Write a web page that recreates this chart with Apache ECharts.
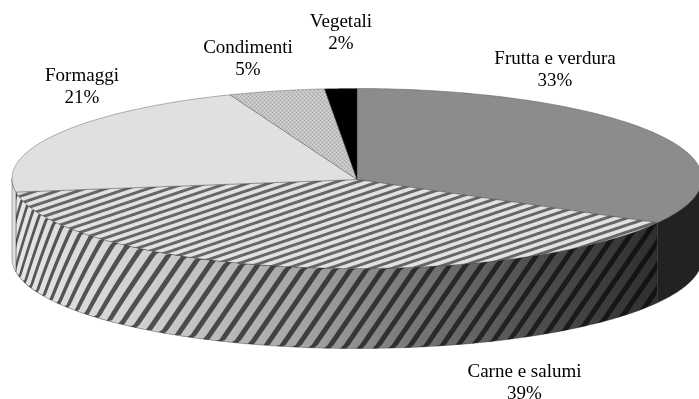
<!DOCTYPE html>
<html>
<head>
<meta charset="utf-8">
<style>html,body{margin:0;padding:0;background:#fff}#c{width:699px;height:399px}</style>
<script src="https://cdn.jsdelivr.net/npm/echarts@6/dist/echarts.min.js"></script>
</head>
<body>
<div id="c"></div>
<script>
// data
const categories = ['Frutta e verdura', 'Carne e salumi', 'Formaggi', 'Condimenti', 'Vegetali'];
const values = [33.2, 39.4, 21.4, 4.5, 1.5];
const percentLabels = ['33%', '39%', '21%', '5%', '2%'];

// layout and style
const CX = 357, CY = 178.5, RX = 345, RY = 90, DEPTH = 80;
const labelAnchor = [[555, 59], [524.5, 372], [82, 76], [248, 48], [341, 22]];
const LINE_H = 22;

function tile(w, h, bg, draw) {
  const c = document.createElement('canvas');
  c.width = w; c.height = h;
  const x = c.getContext('2d');
  if (bg) { x.fillStyle = bg; x.fillRect(0, 0, w, h); }
  draw(x, w, h);
  return { image: c, repeat: 'repeat' };
}
function diag(x, w, h, color, lw) {
  x.strokeStyle = color; x.lineWidth = lw;
  for (let i = -3; i <= 3; i++) {
    x.beginPath();
    x.moveTo((i - 2) * w, 3 * h); x.lineTo((i + 3) * w, -2 * h);
    x.stroke();
  }
}
const stripesTop = tile(21, 7, '#e2e2e2', (x, w, h) => diag(x, w, h, '#666', 3));
const dots = tile(4, 4, '#c2c2c2', (x) => {
  x.fillStyle = '#a8a8a8';
  x.fillRect(0, 0, 1, 1); x.fillRect(2, 2, 1, 1);
  x.fillStyle = '#d8d8d8';
  x.fillRect(2, 0, 1, 1); x.fillRect(0, 2, 1, 1);
});
const sideShade = new echarts.graphic.LinearGradient(12, 0, 660, 0, [
  { offset: 0, color: '#e6e6e6' }, { offset: 0.2, color: '#d0d0d0' },
  { offset: 0.45, color: '#a4a4a4' }, { offset: 0.6, color: '#7c7c7c' },
  { offset: 0.8, color: '#505050' }, { offset: 1, color: '#2e2e2e' }
], true);
const topFill = ['#8c8c8c', stripesTop, '#e0e0e0', dots, '#000'];
const sideFill = ['#222', sideShade, '#e0e0e0', '#bbb', '#000'];

// wall stripes: straight bands in a space that tightens near the far left
const STRIPE_PERIOD = 16, STRIPE_W = 6, STRIPE_SHEAR = 55, STRIPE_INK = 'rgba(0,0,0,0.62)';
const warp = x => x - (x < 150 ? 1.5 * Math.pow(150 - x, 3) / (3 * 138 * 138) : 0);
function unwarp(u) {
  let lo = -300, hi = 1100;
  for (let n = 0; n < 24; n++) {
    const m = (lo + hi) / 2;
    if (warp(m) < u) lo = m; else hi = m;
  }
  return (lo + hi) / 2;
}
const wallTop = x => CY + RY * Math.sqrt(Math.max(0, 1 - Math.pow((x - CX) / RX, 2)));
function wallStripes(xMin, xMax) {
  const bands = [];
  const Y0 = 170, Y1 = 355;
  const edge = (u, y) => {
    const x = Math.min(xMax, Math.max(xMin, unwarp(u - STRIPE_SHEAR * (y - Y0) / DEPTH)));
    const top = wallTop(x);
    return [x, Math.min(top + DEPTH, Math.max(top, y))];
  };
  const uStart = warp(xMin), uEnd = warp(xMax) + 2.4 * STRIPE_SHEAR;
  for (let u = uStart - (uStart % STRIPE_PERIOD); u < uEnd; u += STRIPE_PERIOD) {
    const a = [], b = [];
    for (let y = Y0; y <= Y1; y += 5) {
      a.push(edge(u, y));
      b.unshift(edge(u + STRIPE_W, y));
    }
    bands.push({ type: 'polygon', shape: { points: a.concat(b) }, style: { fill: STRIPE_INK } });
  }
  return bands;
}

const total = values.reduce((a, b) => a + b, 0);
const pt = (a, dy) => [CX + RX * Math.sin(a), CY - RY * Math.cos(a) + (dy || 0)];

function renderSlice(params, api) {
  const i = params.dataIndex;
  const before = values.slice(0, i).reduce((a, b) => a + b, 0);
  const a0 = before / total * 2 * Math.PI;
  const a1 = (before + values[i]) / total * 2 * Math.PI;
  const children = [];
  // outer wall, only the part of the arc facing the viewer
  const s0 = Math.max(a0, Math.PI / 2), s1 = Math.min(a1, 3 * Math.PI / 2);
  if (s1 > s0) {
    const upper = [], lower = [];
    for (let k = 0; k <= 80; k++) {
      const a = s0 + (s1 - s0) * k / 80;
      upper.push(pt(a));
      lower.unshift(pt(a, DEPTH));
    }
    children.push({ type: 'polygon', shape: { points: upper.concat(lower) },
      style: { fill: sideFill[i], stroke: '#333', lineWidth: 0.4 } });
    if (i === 1) wallStripes(pt(s1)[0], pt(s0)[0]).forEach(b => children.push(b));
  }
  // top face
  const face = [[CX, CY + 1]];
  for (let k = 0; k <= 120; k++) face.push(pt(a0 + (a1 - a0) * k / 120));
  children.push({ type: 'polygon', shape: { points: face },
    style: { fill: topFill[i], stroke: '#444', lineWidth: 0.4 } });
  // label
  const [lx, ly] = labelAnchor[i];
  const font = { fontFamily: '"Liberation Serif"', fontSize: 19, fill: '#000', align: 'center', verticalAlign: 'middle' };
  children.push({ type: 'text', style: Object.assign({ text: categories[i], x: lx, y: ly }, font) });
  children.push({ type: 'text', style: Object.assign({ text: percentLabels[i], x: lx, y: ly + LINE_H }, font) });
  return { type: 'group', children };
}

const chart = echarts.init(document.getElementById('c'), null, { renderer: 'canvas' });
chart.setOption({
  animation: false,
  backgroundColor: '#fff',
  series: [{
    type: 'custom',
    coordinateSystem: 'none',
    silent: true,
    clip: false,
    renderItem: renderSlice,
    data: categories.map((name, i) => ({ name, value: [values[i]] }))
  }]
});
</script>
</body>
</html>
